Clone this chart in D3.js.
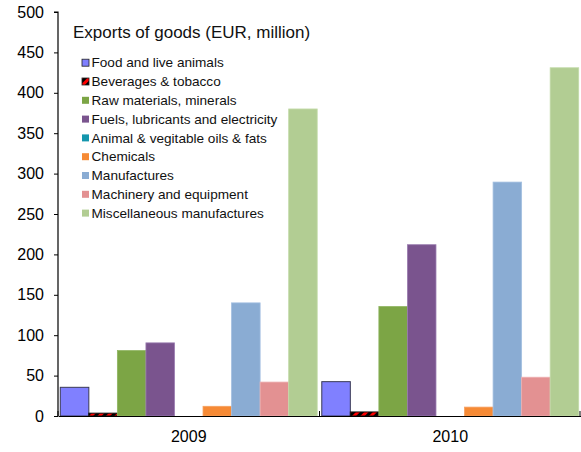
<!DOCTYPE html>
<html><head><meta charset="utf-8">
<script src="https://cdn.jsdelivr.net/npm/d3@7"></script>
<style>body{margin:0;background:#fff;}svg{display:block;font-family:Arial,"Liberation Sans",sans-serif;}</style>
</head><body><svg id="c" width="581" height="452"></svg>
<script>
const categories = ["2009", "2010"];
const seriesNames = ["Food and live animals", "Beverages & tobacco", "Raw materials, minerals",
  "Fuels, lubricants and electricity", "Animal & vegitable oils & fats", "Chemicals",
  "Manufactures", "Machinery and equipment", "Miscellaneous manufactures"];
const values2009 = [35.5, 3.5, 81, 90.5, 0, 12, 140, 42, 380];
const values2010 = [42.5, 5, 135.5, 212, 0, 11, 289.5, 48, 431];
const seriesColors = ["#8080FF", "url(#bev)", "#7CA545", "#7A548E", "#1496AD", "#F68A35", "#8AACD3", "#E39192", "#B2CD93"];
const seriesStrokes = ["#3a3a55", "#111", "#8fb561", "#9a7cb0", "#1496AD", "#f6a060", "#a3bfe0", "#eeb0b1", "#c4dba9"];
const yTicks = [0, 50, 100, 150, 200, 250, 300, 350, 400, 450, 500];
const title = "Exports of goods (EUR, million)";

const svg = d3.select("#c");
const defs = svg.append("defs");
const pat = defs.append("pattern").attr("id", "bev").attr("patternUnits", "userSpaceOnUse")
  .attr("width", 6).attr("height", 6).attr("patternTransform", "rotate(45)");
pat.append("rect").attr("width", 6).attr("height", 6).attr("fill", "#ff0000");
pat.append("rect").attr("width", 3).attr("height", 6).attr("fill", "#000");

const mLeft = 58, mRight = 581, mTop = 12, mBottom = 416;
const y = d3.scaleLinear().domain([0, 500]).range([mBottom, mTop]);
const x0 = d3.scaleBand().domain(categories).range([mLeft, mRight]).paddingInner(0).paddingOuter(0);
const x1 = d3.scaleBand().domain(d3.range(seriesNames.length)).range([0, x0.bandwidth()]).paddingOuter(0.08).paddingInner(0);

const data = categories.map((c, i) => ({cat: c, vals: i === 0 ? values2009 : values2010}));

const g = svg.append("g");
data.forEach(d => {
  g.selectAll(null).data(d.vals.map((v, k) => ({v, k})).filter(e => e.v > 0)).enter().append("rect")
    .attr("x", e => x0(d.cat) + x1(e.k))
    .attr("width", x1.bandwidth())
    .attr("y", e => y(e.v))
    .attr("height", e => mBottom - y(e.v))
    .attr("fill", e => seriesColors[e.k])
    .attr("stroke", e => seriesStrokes[e.k])
    .attr("stroke-width", e => (e.k === 0 || e.k === 1) ? 1 : 0.8);
});

// y axis
const yAxis = d3.axisLeft(y).tickValues(yTicks).tickSize(4).tickPadding(10);
const ya = svg.append("g").attr("transform", `translate(${mLeft},0)`).call(yAxis);
ya.select(".domain").attr("stroke", "#000").attr("stroke-width", 1.2).attr("d", `M-4,${mTop}H0V${mBottom}`);
ya.selectAll(".tick line").attr("stroke", "#000");
ya.selectAll(".tick text").attr("font-size", 16).attr("fill", "#000").attr("font-family", "Arial, 'Liberation Sans', sans-serif");

// x axis
const xAxis = d3.axisBottom(x0).tickSize(0).tickPadding(15);
const xa = svg.append("g").attr("transform", `translate(0,${mBottom})`).call(xAxis);
xa.select(".domain").attr("stroke", "#000").attr("stroke-width", 1.2);
xa.selectAll(".tick text").attr("font-size", 16).attr("fill", "#000").attr("font-family", "Arial, 'Liberation Sans', sans-serif");
// category boundary ticks pointing up
const bounds = [mLeft, x0("2010"), mRight - 1];
svg.append("g").selectAll("line").data(bounds).enter().append("line")
  .attr("x1", d => d).attr("x2", d => d).attr("y1", mBottom).attr("y2", mBottom - 5)
  .attr("stroke", "#000").attr("stroke-width", 1);

// legend
svg.append("text").attr("x", 73).attr("y", 38).attr("font-size", 17).attr("fill", "#111").text(title);
const lg = svg.append("g");
seriesNames.forEach((n, i) => {
  const cy = 62.7 + i * 18.8;
  lg.append("rect").attr("x", 82).attr("y", cy - 3.5).attr("width", 7).attr("height", 7)
    .attr("fill", seriesColors[i]).attr("stroke", i < 2 ? "#222" : "none").attr("stroke-width", 0.8);
  lg.append("text").attr("x", 91.5).attr("y", cy + 4.7).attr("font-size", 13.6).attr("fill", "#111").text(n);
});
</script>
</body></html>
